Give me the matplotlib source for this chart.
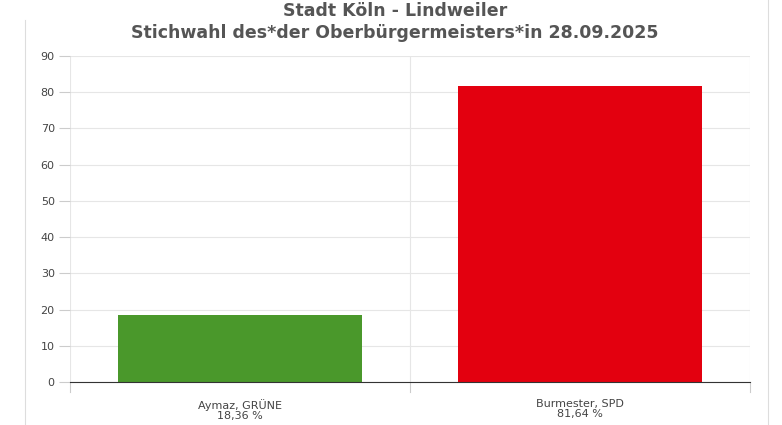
import matplotlib
matplotlib.use("Agg")
import matplotlib.pyplot as plt

categories = ["Aymaz, GRÜNE", "Burmester, SPD"]
values = [18.36, 81.64]
labels = ["18,36 %", "81,64 %"]
colors = ["#4a982b", "#e3000f"]
yticks = list(range(0, 91, 10))

fig = plt.figure(figsize=(7.82, 4.25), dpi=100)
fig.patch.set_facecolor("white")
ax = fig.add_axes([70/782, 1-382/425, 680/782, 326/425])
x = [0.5, 1.5]
ax.bar(x, values, width=0.72, color=colors, zorder=3)
ax.set_xlim(0, 2)
ax.set_ylim(0, 90)
ax.set_yticks(yticks)
ax.set_yticklabels([str(v) for v in yticks], fontsize=8, color="#444444")
ax.set_xticks(x)
ax.set_xticklabels([f"{c}\n{l}" for c, l in zip(categories, labels)], fontsize=8, color="#444444", linespacing=1.1)
ax.tick_params(axis="x", length=0, pad=12)
ax.tick_params(axis="y", length=8, color="#cccccc", pad=3)
ax.grid(axis="y", color="#e6e6e6", lw=0.8, zorder=0)
for xv in [0, 1, 2]:
    ax.axvline(xv, color="#e6e6e6", lw=0.8, zorder=0)
    ax.plot([xv, xv], [0, -0.03], transform=ax.get_xaxis_transform(), color="#cccccc", lw=0.8, clip_on=False)
for s in ["top", "right", "left"]:
    ax.spines[s].set_visible(False)
ax.spines["bottom"].set_color("#333333")
ax.spines["bottom"].set_zorder(4)
fig.add_artist(plt.Line2D([25/782, 25/782], [0, 1-20/425], color="#dddddd", lw=0.8))
fig.add_artist(plt.Line2D([768/782, 768/782], [0, 1], color="#dddddd", lw=0.8))
fig.text(395/782, 1-11/425, "Stadt Köln - Lindweiler", ha="center", va="center", fontsize=12.5, fontweight="bold", color="#555555")
fig.text(395/782, 1-33/425, "Stichwahl des*der Oberbürgermeisters*in 28.09.2025", ha="center", va="center", fontsize=12.5, fontweight="bold", color="#555555")
fig.savefig("out.png", dpi=100)
